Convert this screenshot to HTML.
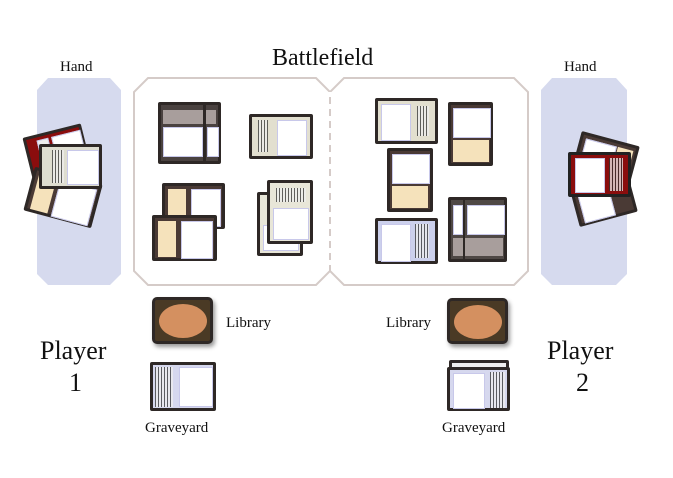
<!DOCTYPE html><html><head><style>
body{margin:0;width:673px;height:478px;background:#fff;position:relative;overflow:hidden;font-family:"Liberation Serif",serif}
.a{position:absolute}
.t{position:absolute;color:#111;white-space:nowrap}
.c{position:absolute;box-sizing:border-box;border:3px solid #2e2826;border-radius:2px}
.w{position:absolute;background:#fff;border:1px solid #c8c8ea}
.tx{position:absolute;background:#eee repeating-linear-gradient(90deg,#333 0 1px,#eee 1px 3px);opacity:.75}
</style></head><body>
<div class="t" style="left:272px;top:45px;font-size:24px">Battlefield</div>
<div class="t" style="left:60px;top:59px;font-size:15px">Hand</div>
<div class="t" style="left:564px;top:59px;font-size:15px">Hand</div>
<svg class="a" style="left:0;top:0" width="673" height="478">
<polygon points="48,78 110,78 121,90 121,274 110,285 48,285 37,274 37,90" fill="#d6daee"/>
<polygon points="552,78 616,78 627,90 627,274 616,285 552,285 541,274 541,90" fill="#d6daee"/>
<polygon points="148,78 316,78 330,92 330,271 316,285 148,285 134,271 134,92" fill="none" stroke="#d5cbc8" stroke-width="2"/>
<polygon points="344,78 514,78 528,92 528,271 514,285 344,285 330,271 330,92" fill="none" stroke="#d5cbc8" stroke-width="2"/>
<line x1="330" y1="92" x2="330" y2="272" stroke="#fff" stroke-width="3" stroke-dasharray="5,7"/>
</svg>
<div class="c" style="left:158px;top:102px;width:63px;height:62px;background:#4a4240"><div class="a" style="left:2px;top:5px;width:53px;height:14px;background:#a89e9c"></div><div class="w" style="left:2px;top:22px;width:38px;height:28px"></div><div class="w" style="left:46px;top:22px;width:10px;height:28px"></div><div class="a" style="left:42px;top:0;width:3px;height:58px;background:#2e2826"></div></div>
<div class="c" style="left:249px;top:114px;width:64px;height:45px;background:#e2dfcf"><div class="tx" style="left:6px;top:3px;width:10px;height:32px"></div><div class="w" style="left:25px;top:3px;width:28px;height:34px"></div></div>
<div class="c" style="left:162px;top:183px;width:63px;height:46px;background:#4a3a35"><div class="a" style="left:3px;top:3px;width:18px;height:36px;background:#f5e2bb"></div><div class="w" style="left:26px;top:3px;width:28px;height:36px"></div></div>
<div class="c" style="left:152px;top:215px;width:65px;height:46px;background:#4a3a35"><div class="a" style="left:3px;top:3px;width:18px;height:36px;background:#f5e2bb"></div><div class="w" style="left:26px;top:3px;width:30px;height:36px"></div></div>
<div class="c" style="left:257px;top:192px;width:46px;height:64px;background:#e8e6d8"><div class="w" style="left:3px;top:30px;width:34px;height:24px"></div></div>
<div class="c" style="left:267px;top:180px;width:46px;height:64px;background:#e8e6d8"><div class="tx" style="left:6px;top:5px;width:30px;height:14px"></div><div class="w" style="left:3px;top:25px;width:34px;height:30px"></div></div>
<div class="c" style="left:375px;top:98px;width:63px;height:46px;background:#e2dfcf"><div class="w" style="left:3px;top:3px;width:28px;height:35px"></div><div class="tx" style="left:39px;top:5px;width:12px;height:30px"></div></div>
<div class="c" style="left:448px;top:102px;width:45px;height:64px;background:#4a3a35"><div class="w" style="left:2px;top:3px;width:36px;height:28px"></div><div class="a" style="left:2px;top:35px;width:36px;height:22px;background:#f5e2bb"></div></div>
<div class="c" style="left:387px;top:148px;width:46px;height:64px;background:#4a3a35"><div class="w" style="left:2px;top:3px;width:36px;height:28px"></div><div class="a" style="left:2px;top:35px;width:36px;height:22px;background:#f5e2bb"></div></div>
<div class="c" style="left:375px;top:218px;width:63px;height:46px;background:#ccd0ec"><div class="w" style="left:3px;top:3px;width:28px;height:36px"></div><div class="tx" style="left:37px;top:3px;width:14px;height:34px"></div></div>
<div class="c" style="left:448px;top:197px;width:59px;height:65px;background:#4f4845"><div class="w" style="left:2px;top:5px;width:8px;height:28px"></div><div class="w" style="left:16px;top:5px;width:36px;height:28px"></div><div class="a" style="left:2px;top:38px;width:50px;height:18px;background:#a89e9c"></div><div class="a" style="left:12px;top:0;width:2px;height:59px;background:#2e2826"></div></div>
<div class="c" style="left:27px;top:130px;width:60px;height:45px;background:#8a0d0d;transform:rotate(-14deg)"><div class="w" style="left:10px;top:3px;width:10px;height:35px;background:#eee"></div><div class="w" style="left:25px;top:3px;width:28px;height:35px"></div></div>
<div class="c" style="left:28px;top:175px;width:70px;height:45px;background:#4a3a35;transform:rotate(15deg)"><div class="a" style="left:3px;top:3px;width:18px;height:36px;background:#f5e2bb"></div><div class="w" style="left:25px;top:3px;width:36px;height:36px"></div></div>
<div class="c" style="left:39px;top:144px;width:63px;height:45px;background:#deddd0"><div class="tx" style="left:10px;top:3px;width:12px;height:33px"></div><div class="w" style="left:25px;top:3px;width:30px;height:33px"></div></div>
<div class="c" style="left:575px;top:138px;width:60px;height:45px;background:#4a3a35;transform:rotate(15deg)"><div class="w" style="left:3px;top:3px;width:30px;height:35px"></div><div class="a" style="left:36px;top:3px;width:16px;height:35px;background:#f5e2bb"></div></div>
<div class="c" style="left:573px;top:175px;width:60px;height:45px;background:#4a3a35;transform:rotate(-15deg)"><div class="w" style="left:3px;top:3px;width:30px;height:35px"></div></div>
<div class="c" style="left:568px;top:152px;width:63px;height:45px;background:#8a0d0d;border-color:#222"><div class="w" style="left:4px;top:3px;width:28px;height:33px"></div><div class="tx" style="left:38px;top:3px;width:14px;height:33px"></div></div>
<div class="c" style="left:152px;top:297px;width:61px;height:47px;background:#4a3a25;border-radius:5px;box-shadow:2px 3px 4px #999"><div class="a" style="left:4px;top:4px;width:48px;height:34px;border-radius:50%;background:#d49060"></div></div>
<div class="c" style="left:447px;top:298px;width:61px;height:46px;background:#4a3a25;border-radius:5px;box-shadow:2px 3px 4px #999"><div class="a" style="left:4px;top:4px;width:48px;height:34px;border-radius:50%;background:#d49060"></div></div>
<div class="c" style="left:150px;top:362px;width:66px;height:49px;background:#d6d8ee"><div class="tx" style="left:2px;top:2px;width:18px;height:40px"></div><div class="w" style="left:26px;top:2px;width:32px;height:38px"></div></div>
<div class="c" style="left:449px;top:360px;width:60px;height:12px;background:#eee"></div>
<div class="c" style="left:447px;top:367px;width:63px;height:44px;background:#d6d8ee"><div class="w" style="left:3px;top:3px;width:30px;height:34px"></div><div class="tx" style="left:40px;top:2px;width:15px;height:36px"></div></div>
<div class="t" style="left:226px;top:315px;font-size:15px">Library</div>
<div class="t" style="left:386px;top:315px;font-size:15px">Library</div>
<div class="t" style="left:145px;top:420px;font-size:15px">Graveyard</div>
<div class="t" style="left:442px;top:420px;font-size:15px">Graveyard</div>
<div class="t" style="left:40px;top:336px;font-size:26px">Player</div>
<div class="t" style="left:69px;top:368px;font-size:26px">1</div>
<div class="t" style="left:547px;top:336px;font-size:26px">Player</div>
<div class="t" style="left:576px;top:368px;font-size:26px">2</div>
</body></html>
